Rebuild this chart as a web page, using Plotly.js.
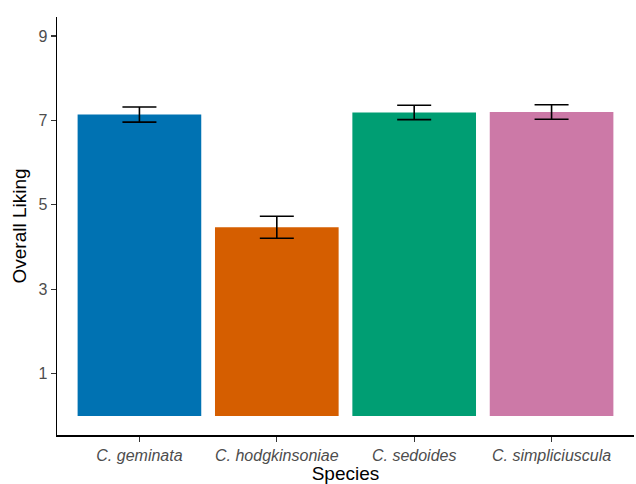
<!DOCTYPE html>
<html>
<head>
<meta charset="utf-8">
<script src="https://cdn.plot.ly/plotly-3.0.1.min.js"></script>
<style>
  html, body { margin: 0; padding: 0; background: #fff; }
  #chart { width: 636px; height: 484px; }
</style>
</head>
<body>
<div id="chart"></div>
<script>
// Mean overall liking per species with standard error
const species = ["C. geminata", "C. hodgkinsoniae", "C. sedoides", "C. simpliciuscula"];
const meanLiking = [7.14, 4.47, 7.19, 7.20];
const stdError = [0.18, 0.26, 0.17, 0.17];
const barColors = ["#0072B2", "#D55E00", "#009E73", "#CC79A7"];
const yTicks = [1, 3, 5, 7, 9];

const trace = {
  type: "bar",
  x: species,
  y: meanLiking,
  marker: { color: barColors, line: { width: 0 } },
  error_y: {
    type: "data",
    array: stdError,
    visible: true,
    color: "#000000",
    thickness: 1.6,
    width: 17
  },
  hoverinfo: "skip"
};

const layout = {
  width: 636,
  height: 484,
  margin: { l: 57, r: 2, t: 17, b: 49 },
  paper_bgcolor: "#ffffff",
  plot_bgcolor: "#ffffff",
  bargap: 0.1,
  showlegend: false,
  font: { family: "Liberation Sans, Arial, sans-serif", color: "#000000" },
  xaxis: {
    type: "category",
    range: [-0.6, 3.6],
    showline: true,
    linecolor: "#000000",
    linewidth: 1.5,
    ticks: "outside",
    ticklen: 5,
    tickwidth: 1.2,
    tickcolor: "#333333",
    showgrid: false,
    zeroline: false,
    tickfont: { size: 16, color: "#4d4d4d", style: "italic" },
    title: { text: "Species", font: { size: 19, color: "#000000" }, standoff: 5 }
  },
  yaxis: {
    range: [-0.45, 9.45],
    tickvals: yTicks,
    ticktext: yTicks.map(String),
    showline: true,
    linecolor: "#000000",
    linewidth: 1.5,
    ticks: "outside",
    ticklen: 5,
    tickwidth: 1.2,
    tickcolor: "#333333",
    showgrid: false,
    zeroline: false,
    tickfont: { size: 16, color: "#4d4d4d" },
    title: { text: "Overall Liking", font: { size: 19, color: "#000000" }, standoff: 6 }
  }
};

Plotly.newPlot("chart", [trace], layout, { displayModeBar: false, staticPlot: true });
</script>
</body>
</html>
